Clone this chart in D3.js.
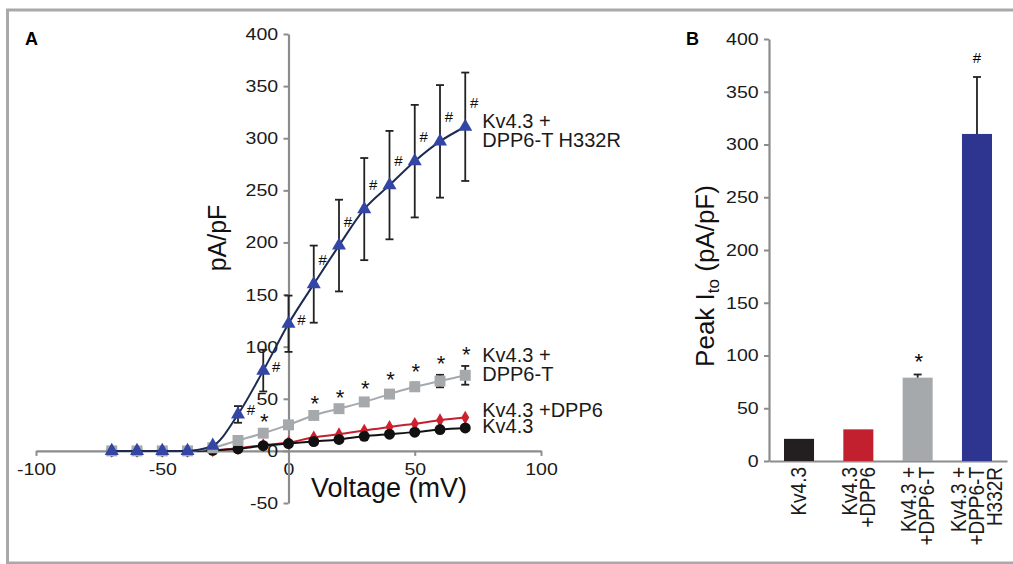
<!DOCTYPE html>
<html>
<head>
<meta charset="utf-8">
<script src="https://cdn.jsdelivr.net/npm/d3@7"></script>
<style>
  body { margin: 0; background: #fff; }
  svg { display: block; font-family: "Liberation Sans", Arial, sans-serif; }
</style>
</head>
<body>
<script>
// Panel A: I-V curves, voltage steps in mV
const voltages = [-70, -60, -50, -40, -30, -20, -10, 0, 10, 20, 30, 40, 50, 60, 70];
const kv43 = [0, 0, 0, 0, 0.5, 2, 5, 7, 9, 11, 14, 16, 18, 20.5, 22];
const kv43Dpp6 = [0, 0, 0, 0, 0.5, 2.5, 5.5, 8, 13, 16, 19.5, 23, 26, 29.5, 32];
const kv43Dpp6T = [0, 0, 0, 0, 3, 10, 17, 25, 34, 40.5, 47, 54.5, 61.5, 67, 72.5];
const kv43Dpp6TErr = [0, 0, 0, 0, 0, 0, 0, 0, 0, 0, 2, 3, 4, 6, 9];
const h332r = [0, 0, 0, 0, 5, 35, 77, 122, 160, 197, 232, 255, 278, 297, 311];
const h332rErr = [0, 0, 0, 0, 0, 8, 20, 27, 37, 44, 49, 52, 54, 54, 52];
const starVoltages = [-10, 10, 20, 30, 40, 50, 60, 70];
const hashVoltages = [-20, -10, 0, 10, 20, 30, 40, 50, 60, 70];
const xTicksA = [-100, -50, 0, 50, 100];
const yTicksA = [-50, 0, 50, 100, 150, 200, 250, 300, 350, 400];

// Panel B: peak Ito
const barNames = [["Kv4.3"], ["Kv4.3", "+DPP6"], ["Kv4.3 +", "+DPP6-T"], ["Kv4.3 +", "+DPP6-T", "H332R"]];
const peakValues = [21, 30, 79, 310];
const peakErr = [0, 0, 3, 54];
const peakMarks = ["", "", "*", "#"];
const yTicksB = [0, 50, 100, 150, 200, 250, 300, 350, 400];
const barColors = ["#231f20", "#c3202f", "#a6a9ac", "#2e3591"];

const axisColor = "#8c8c8c";

const svg = d3.select("body")
  .append("svg")
  .attr("width", 1013)
  .attr("height", 564);

// outer frame
svg.append("rect")
  .attr("x", 7.5).attr("y", 10)
  .attr("width", 1010).attr("height", 553)
  .attr("fill", "none")
  .attr("stroke", "#a9a9a9")
  .attr("stroke-width", 3);

function styleAxis(g) {
  g.select(".domain").attr("stroke", axisColor).attr("stroke-width", 2.2);
  g.selectAll(".tick line").attr("stroke", axisColor).attr("stroke-width", 2);
  g.selectAll(".tick text")
    .attr("fill", "#1a1a1a")
    .style("font-size", "17px")
    .attr("transform", "scale(1.15,1)");
}

// ---------- Panel A ----------
const x = d3.scaleLinear().domain([-100, 100]).range([36, 541]);
const y = d3.scaleLinear().domain([-50, 400]).range([503, 34]);

svg.append("g")
  .attr("transform", `translate(0,${y(0)})`)
  .call(d3.axisBottom(x).tickValues(xTicksA).tickSize(5).tickSizeOuter(0).tickPadding(7).tickFormat(d => String(d)))
  .call(styleAxis);

svg.append("g")
  .attr("transform", `translate(${x(0)},0)`)
  .call(d3.axisLeft(y).tickValues(yTicksA).tickSize(5).tickSizeOuter(0).tickPadding(4).tickFormat(d => String(d)))
  .call(styleAxis);

const series = [
  { values: kv43Dpp6, err: null, line: "#c3202f", fill: "#d0202f", symbol: d3.symbolDiamond, size: 55 },
  { values: kv43, err: null, line: "#111", fill: "#111", symbol: d3.symbolCircle, size: 95 },
  { values: kv43Dpp6T, err: kv43Dpp6TErr, line: "#a6a9ac", fill: "#a6a9ac", symbol: d3.symbolSquare, size: 120 },
  { values: h332r, err: h332rErr, line: "#1d2b52", fill: "#3346a6", symbol: d3.symbolTriangle, size: 85 }
];

const lineGen = d3.line()
  .x((d, i) => x(voltages[i]))
  .y(d => y(d))
  .curve(d3.curveMonotoneX);

series.forEach(s => {
  svg.append("path")
    .datum(s.values)
    .attr("fill", "none")
    .attr("stroke", s.line)
    .attr("stroke-width", 2)
    .attr("d", lineGen);

  if (s.err) {
    const bars = s.values.map((v, i) => ({ v: voltages[i], val: v, e: s.err[i] })).filter(d => d.e > 0);
    const eb = svg.append("g").attr("stroke", "#222").attr("stroke-width", 1.8);
    eb.selectAll(".bar").data(bars).join("line")
      .attr("x1", d => x(d.v)).attr("x2", d => x(d.v))
      .attr("y1", d => y(d.val - d.e)).attr("y2", d => y(d.val + d.e));
    eb.selectAll(".capTop").data(bars).join("line")
      .attr("x1", d => x(d.v) - 4).attr("x2", d => x(d.v) + 4)
      .attr("y1", d => y(d.val + d.e)).attr("y2", d => y(d.val + d.e));
    eb.selectAll(".capBot").data(bars).join("line")
      .attr("x1", d => x(d.v) - 4).attr("x2", d => x(d.v) + 4)
      .attr("y1", d => y(d.val - d.e)).attr("y2", d => y(d.val - d.e));
  }

  svg.append("g").selectAll("path")
    .data(s.values)
    .join("path")
    .attr("transform", (d, i) => `translate(${x(voltages[i])},${y(d)})`)
    .attr("d", d3.symbol(s.symbol, s.size))
    .attr("fill", s.fill);
});

// significance marks
svg.append("g").selectAll("text")
  .data(starVoltages)
  .join("text")
  .attr("x", v => x(v) + 1)
  .attr("y", v => {
    const i = voltages.indexOf(v);
    return y(kv43Dpp6T[i] + kv43Dpp6TErr[i]) - 4;
  })
  .attr("text-anchor", "middle")
  .style("font-size", "22px")
  .attr("fill", "#111")
  .text("*");

svg.append("g").selectAll("text")
  .data(hashVoltages)
  .join("text")
  .attr("x", v => {
    const val = h332r[voltages.indexOf(v)];
    return x(v) + (val >= 150 ? 9 : 13);
  })
  .attr("y", v => {
    const val = h332r[voltages.indexOf(v)];
    return y(val) + (val >= 150 ? -23 : -3);
  })
  .attr("text-anchor", "middle")
  .attr("dominant-baseline", "middle")
  .style("font-size", "15px")
  .attr("fill", "#111")
  .text("#");

// series labels at the right end
const lastIdx = voltages.length - 1;
const labelX = x(voltages[lastIdx]) + 17;
const seriesLabels = [
  { lines: ["Kv4.3 +", "DPP6-T H332R"], y0: y(h332r[lastIdx]) + 1 },
  { lines: ["Kv4.3 +", "DPP6-T"], y0: y(kv43Dpp6T[lastIdx]) - 13 },
  { lines: ["Kv4.3 +DPP6"], y0: y(kv43Dpp6[lastIdx]) - 1 },
  { lines: ["Kv4.3"], y0: y(kv43[lastIdx]) + 5 }
];
seriesLabels.forEach(l => {
  const t = svg.append("text")
    .attr("x", labelX)
    .attr("y", l.y0)
    .style("font-size", "20px")
    .attr("fill", "#1a1a1a");
  l.lines.forEach((ln, j) => {
    t.append("tspan").attr("x", labelX).attr("dy", j === 0 ? 0 : 19).text(ln);
  });
});

// axis titles A
svg.append("text")
  .attr("x", 311).attr("y", 497)
  .style("font-size", "27px")
  .attr("fill", "#111")
  .text("Voltage (mV)");

svg.append("text")
  .attr("transform", "translate(226,238) rotate(-90)")
  .attr("text-anchor", "middle")
  .style("font-size", "25px")
  .attr("fill", "#111")
  .text("pA/pF");

svg.append("text")
  .attr("x", 25).attr("y", 45)
  .style("font-size", "18px")
  .style("font-weight", "bold")
  .text("A");

// ---------- Panel B ----------
const yB = d3.scaleLinear().domain([0, 400]).range([461, 39]);
const xB = d3.scaleBand()
  .domain(d3.range(peakValues.length))
  .range([769, 1007])
  .paddingInner(0.494)
  .paddingOuter(0.253);

svg.append("g")
  .attr("transform", `translate(0,${yB(0)})`)
  .call(d3.axisBottom(xB).tickSize(0).tickSizeOuter(0).tickFormat(""))
  .call(styleAxis);

svg.append("g")
  .attr("transform", "translate(769,0)")
  .call(d3.axisLeft(yB).tickValues(yTicksB).tickSize(5).tickSizeOuter(0).tickPadding(4).tickFormat(d => String(d)))
  .call(styleAxis);

svg.append("g").selectAll("rect")
  .data(peakValues)
  .join("rect")
  .attr("x", (d, i) => xB(i))
  .attr("width", xB.bandwidth())
  .attr("y", d => yB(d))
  .attr("height", d => yB(0) - yB(d))
  .attr("fill", (d, i) => barColors[i]);

const ebB = svg.append("g").attr("stroke", "#222").attr("stroke-width", 1.8);
peakValues.forEach((v, i) => {
  if (peakErr[i] <= 0) return;
  const cx = xB(i) + xB.bandwidth() / 2;
  ebB.append("line").attr("x1", cx).attr("x2", cx).attr("y1", yB(v)).attr("y2", yB(v + peakErr[i]));
  ebB.append("line").attr("x1", cx - 4).attr("x2", cx + 4).attr("y1", yB(v + peakErr[i])).attr("y2", yB(v + peakErr[i]));
});

peakValues.forEach((v, i) => {
  if (!peakMarks[i]) return;
  const cx = xB(i) + xB.bandwidth() / 2;
  const top = yB(v + peakErr[i]);
  if (peakMarks[i] === "*") {
    svg.append("text").attr("x", cx + 1).attr("y", top - 5)
      .attr("text-anchor", "middle").style("font-size", "22px").text("*");
  } else {
    svg.append("text").attr("x", cx).attr("y", top - 18)
      .attr("text-anchor", "middle").attr("dominant-baseline", "middle")
      .style("font-size", "15px").text("#");
  }
});

// rotated category labels
barNames.forEach((lines, i) => {
  const cx = xB(i) + xB.bandwidth() / 2;
  lines.forEach((ln, j) => {
    svg.append("text")
      .attr("transform", `translate(${cx + (j - (lines.length - 1) / 2) * 18},467) scale(1.12,1) rotate(-90)`)
      .attr("text-anchor", "end")
      .attr("dy", "0.35em")
      .style("font-size", "19px")
      .attr("fill", "#1a1a1a")
      .text(ln);
  });
});

const yTitleB = svg.append("text")
  .attr("transform", "translate(714,276) rotate(-90)")
  .attr("text-anchor", "middle")
  .style("font-size", "26px")
  .attr("fill", "#111");
yTitleB.append("tspan").text("Peak I");
yTitleB.append("tspan").attr("dy", 5).style("font-size", "17px").text("to");
yTitleB.append("tspan").attr("dy", -5).text(" (pA/pF)");

svg.append("text")
  .attr("x", 686).attr("y", 45)
  .style("font-size", "18px")
  .style("font-weight", "bold")
  .text("B");
</script>
</body>
</html>
